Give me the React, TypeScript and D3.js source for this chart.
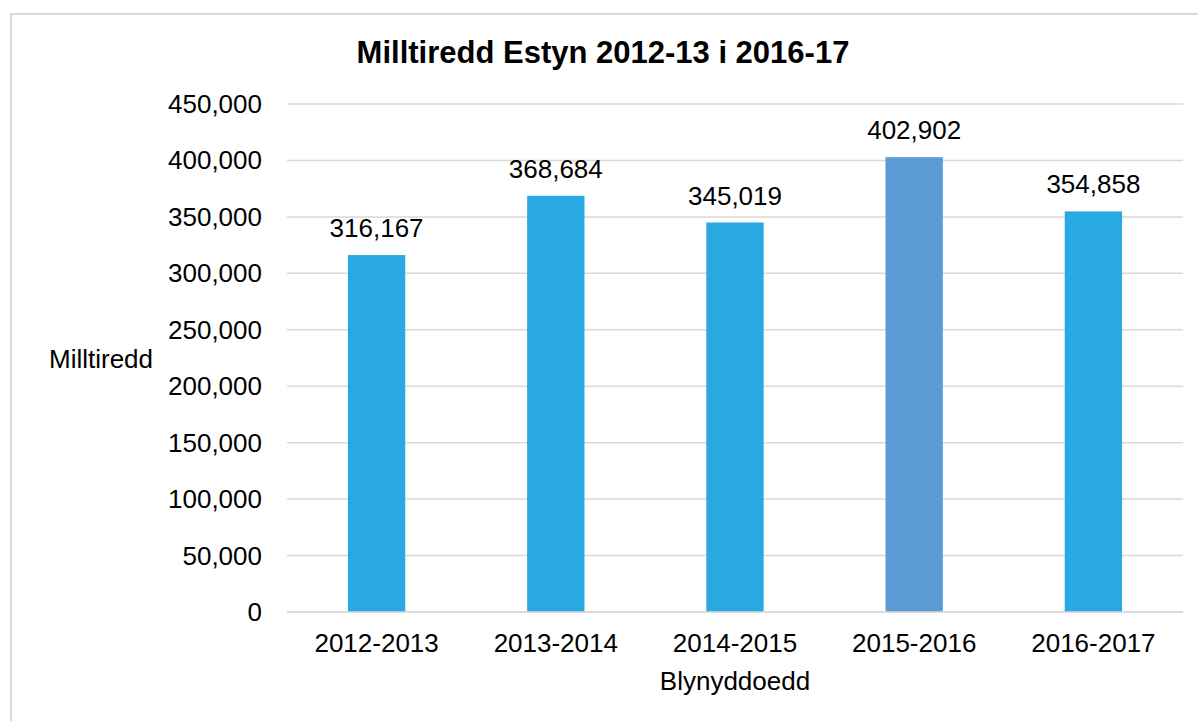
import React, { useEffect, useRef } from 'react';
import * as d3 from 'd3';

const categories = ['2012-2013', '2013-2014', '2014-2015', '2015-2016', '2016-2017'];
const values = [316167, 368684, 345019, 402902, 354858];
const barColors = ['#29a9e1', '#29a9e1', '#29a9e1', '#5b9bd5', '#29a9e1'];
const yTicks = [0, 50000, 100000, 150000, 200000, 250000, 300000, 350000, 400000, 450000];

const App: React.FC = () => {
  const svgRef = useRef<SVGSVGElement>(null);

  useEffect(() => {
    if (!svgRef.current) return;
    const width = 1198;
    const height = 721;
    const svg = d3.select(svgRef.current);
    svg.selectAll('*').remove();

    const font = 'Liberation Sans, Arial, sans-serif';
    const fs = 26;

    // outer frame
    svg.append('rect')
      .attr('x', 11).attr('y', 14)
      .attr('width', width + 20).attr('height', height + 20)
      .attr('fill', '#fff')
      .attr('stroke', '#d9d9d9')
      .attr('stroke-width', 2);

    const x = d3.scaleBand<string>().domain(categories).range([287, 1183]).padding(0);
    const y = d3.scaleLinear().domain([0, 450000]).range([612, 104]);
    const fmt = d3.format(',');

    // gridlines
    svg.append('g')
      .selectAll('line')
      .data(yTicks)
      .join('line')
      .attr('x1', 287).attr('x2', 1183)
      .attr('y1', d => y(d)).attr('y2', d => y(d))
      .attr('stroke', '#d9d9d9')
      .attr('stroke-width', 1.5);

    // y tick labels
    svg.append('g')
      .selectAll('text')
      .data(yTicks)
      .join('text')
      .attr('x', 262)
      .attr('y', d => y(d) + 9)
      .attr('text-anchor', 'end')
      .attr('font-family', font)
      .attr('font-size', fs)
      .attr('fill', '#000')
      .text(d => fmt(d));

    const barW = x.bandwidth() * 0.32;

    // bars
    svg.append('g')
      .selectAll('rect')
      .data(values)
      .join('rect')
      .attr('x', (d, i) => x(categories[i])! + x.bandwidth() / 2 - barW / 2)
      .attr('y', d => y(d))
      .attr('width', barW)
      .attr('height', d => y(0) - y(d))
      .attr('fill', (d, i) => barColors[i]);

    // axis line over bars
    svg.append('line')
      .attr('x1', 287).attr('x2', 1183)
      .attr('y1', y(0)).attr('y2', y(0))
      .attr('stroke', '#d9d9d9')
      .attr('stroke-width', 1.5);

    // value labels
    svg.append('g')
      .selectAll('text')
      .data(values)
      .join('text')
      .attr('x', (d, i) => x(categories[i])! + x.bandwidth() / 2)
      .attr('y', d => y(d) - 18)
      .attr('text-anchor', 'middle')
      .attr('font-family', font)
      .attr('font-size', fs)
      .attr('fill', '#000')
      .text(d => fmt(d));

    // x tick labels
    svg.append('g')
      .selectAll('text')
      .data(categories)
      .join('text')
      .attr('x', d => x(d)! + x.bandwidth() / 2)
      .attr('y', 652)
      .attr('text-anchor', 'middle')
      .attr('font-family', font)
      .attr('font-size', fs)
      .attr('fill', '#000')
      .text(d => d);

    // axis titles
    svg.append('text')
      .attr('x', 735).attr('y', 690)
      .attr('text-anchor', 'middle')
      .attr('font-family', font)
      .attr('font-size', fs)
      .text('Blynyddoedd');

    svg.append('text')
      .attr('x', 49).attr('y', 368)
      .attr('font-family', font)
      .attr('font-size', fs)
      .text('Milltiredd');

    // title
    svg.append('text')
      .attr('x', 603).attr('y', 63)
      .attr('text-anchor', 'middle')
      .attr('font-family', font)
      .attr('font-size', 31)
      .attr('font-weight', 'bold')
      .text('Milltiredd Estyn 2012-13 i 2016-17');
  }, []);

  return (
    <svg
      ref={svgRef}
      width={1198}
      height={721}
      style={{ display: 'block', position: 'absolute', left: 0, top: 0 }}
    />
  );
};

export default App;
